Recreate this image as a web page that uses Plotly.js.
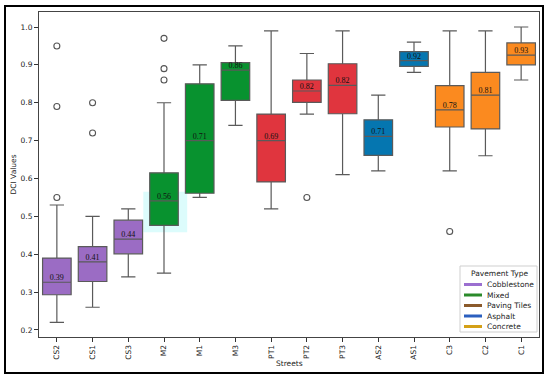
<!DOCTYPE html>
<html>
<head>
<meta charset="utf-8">
<script src="https://cdn.plot.ly/plotly-3.0.1.min.js"></script>
<style>html,body{margin:0;padding:0;background:#fff;}#chart{width:550px;height:380px;}</style>
</head>
<body>
<div id="chart"></div>
<script>
// ---- data ----
var streets = ["CS2","CS1","CS3","M2","M1","M3","PT1","PT2","PT3","AS2","AS1","C3","C2","C1"];
var pavement = ["Cobblestone","Cobblestone","Cobblestone","Mixed","Mixed","Mixed","Paving Tiles","Paving Tiles","Paving Tiles","Asphalt","Asphalt","Concrete","Concrete","Concrete"];
var lowerWhisker = [0.22,0.26,0.34,0.35,0.55,0.74,0.52,0.77,0.61,0.62,0.88,0.62,0.66,0.86];
var q1Values     = [0.293,0.328,0.401,0.476,0.561,0.806,0.591,0.801,0.771,0.661,0.896,0.736,0.731,0.900];
var medianValues = [0.326,0.380,0.440,0.541,0.700,0.886,0.700,0.831,0.846,0.711,0.911,0.781,0.820,0.926];
var q3Values     = [0.390,0.420,0.490,0.615,0.850,0.906,0.770,0.860,0.903,0.755,0.935,0.845,0.880,0.958];
var upperWhisker = [0.53,0.50,0.52,0.80,0.90,0.95,0.99,0.93,0.99,0.82,0.96,0.99,0.99,1.00];
var meanValues   = [0.39,0.41,0.44,0.56,0.71,0.86,0.69,0.82,0.82,0.71,0.92,0.78,0.81,0.93];
var outlierStreets = ["CS2","CS2","CS2","CS1","CS1","M2","M2","M2","PT2","C3"];
var outlierValues  = [0.95,0.79,0.55,0.80,0.72,0.97,0.89,0.86,0.55,0.46];
var pavementTypes = ["Cobblestone","Mixed","Paving Tiles","Asphalt","Concrete"];
var boxColors    = ["#9b6cc4","#08922f","#e0353e","#0576b0","#fb8a1f"];
var legendColors = ["#9b6fd0","#2a8a2a","#8b5a2b","#2b5fbf","#d4a017"];
var yTicks = [0.2,0.3,0.4,0.5,0.6,0.7,0.8,0.9,1.0];

var FS = 7.5;

// ---- traces ----
var traces = [];
pavementTypes.forEach(function(pt, k){
  var idx = [];
  pavement.forEach(function(p,i){ if(p===pt) idx.push(i); });
  var pick = function(arr){ return idx.map(function(i){return arr[i];}); };
  traces.push({
    type:"box", name:pt, showlegend:false,
    x: pick(streets), q1: pick(q1Values), median: pick(medianValues), q3: pick(q3Values),
    lowerfence: pick(lowerWhisker), upperfence: pick(upperWhisker),
    boxpoints:false, width:0.8, whiskerwidth:0.5,
    fillcolor: boxColors[k], line:{color:"#5a5a5a", width:1.2},
    hoverinfo:"skip"
  });
});
traces.push({
  type:"scatter", mode:"markers", x:outlierStreets, y:outlierValues, showlegend:false,
  marker:{symbol:"circle-open", size:6, color:"#555", line:{width:1.1, color:"#555"}},
  hoverinfo:"skip"
});
traces.push({
  type:"scatter", mode:"text", x:streets, y:medianValues, showlegend:false,
  text: meanValues.map(function(v){return v.toFixed(2);}),
  textposition:"top center",
  textfont:{family:"Liberation Serif, Times New Roman, serif", size:8, color:"#111"},
  hoverinfo:"skip"
});

// ---- manual legend (compact, like the reference) ----
var px2x = function(px){ return (px-39)/500; };
var py2y = function(py){ return (337-py)/325; };
var shapes = [
  {type:"rect", xref:"x", yref:"y", x0:2.42, x1:3.65, y0:0.458, y1:0.565,
   fillcolor:"#dcfcfc", line:{width:0}, layer:"below"},
  {type:"rect", xref:"paper", yref:"paper", x0:-0.068, x1:1.008, y0:-0.111, y1:1.0185,
   line:{color:"#000", width:2}, fillcolor:"rgba(0,0,0,0)"},
  {type:"rect", xref:"paper", yref:"paper", x0:px2x(460), x1:px2x(537), y0:py2y(332), y1:py2y(266),
   line:{color:"#cfcfcf", width:1}, fillcolor:"#fff", layer:"above"}
];
var annotations = [
  {xref:"paper", yref:"paper", x:px2x(499), y:py2y(273.5), text:"Pavement Type", showarrow:false,
   xanchor:"center", yanchor:"middle", font:{size:FS, color:"#222"}},
  {xref:"paper", yref:"paper", x:px2x(13), y:0.5, text:"DCI Values", textangle:-90, showarrow:false,
   xanchor:"center", yanchor:"middle", font:{size:FS, color:"#222"}},
  {xref:"paper", yref:"paper", x:0.5, y:py2y(363), text:"Streets", showarrow:false,
   xanchor:"center", yanchor:"middle", font:{size:FS, color:"#222"}}
];
pavementTypes.forEach(function(pt,k){
  var py = 284.5 + k*10.5;
  shapes.push({type:"line", xref:"paper", yref:"paper", x0:px2x(464), x1:px2x(482), y0:py2y(py), y1:py2y(py),
    line:{color:legendColors[k], width:3}});
  annotations.push({xref:"paper", yref:"paper", x:px2x(485), y:py2y(py), text:pt, showarrow:false,
    xanchor:"left", yanchor:"middle", font:{size:FS, color:"#222"}});
});

var layout = {
  width:550, height:380,
  margin:{l:39, r:11, t:12, b:43},
  paper_bgcolor:"#fff", plot_bgcolor:"#fff",
  font:{family:"DejaVu Sans, sans-serif", size:FS, color:"#222"},
  boxmode:"overlay",
  showlegend:false,
  xaxis:{
    type:"category", categoryorder:"array", categoryarray:streets,
    range:[-0.5, 13.5],
    tickangle:-90, ticks:"outside", ticklen:4, tickcolor:"#333",
    showline:true, mirror:true, linecolor:"#444", linewidth:1,
    showgrid:false, zeroline:false,
    tickfont:{size:FS}
  },
  yaxis:{
    range:[0.1815, 1.0396],
    tickvals:yTicks,
    ticktext:yTicks.map(function(v){return v.toFixed(1);}),
    ticks:"outside", ticklen:4, tickcolor:"#333",
    showline:true, mirror:true, linecolor:"#444", linewidth:1,
    showgrid:false, zeroline:false,
    tickfont:{size:FS}
  },
  shapes:shapes,
  annotations:annotations
};

Plotly.newPlot("chart", traces, layout, {displayModeBar:false, staticPlot:true});
</script>
</body>
</html>
